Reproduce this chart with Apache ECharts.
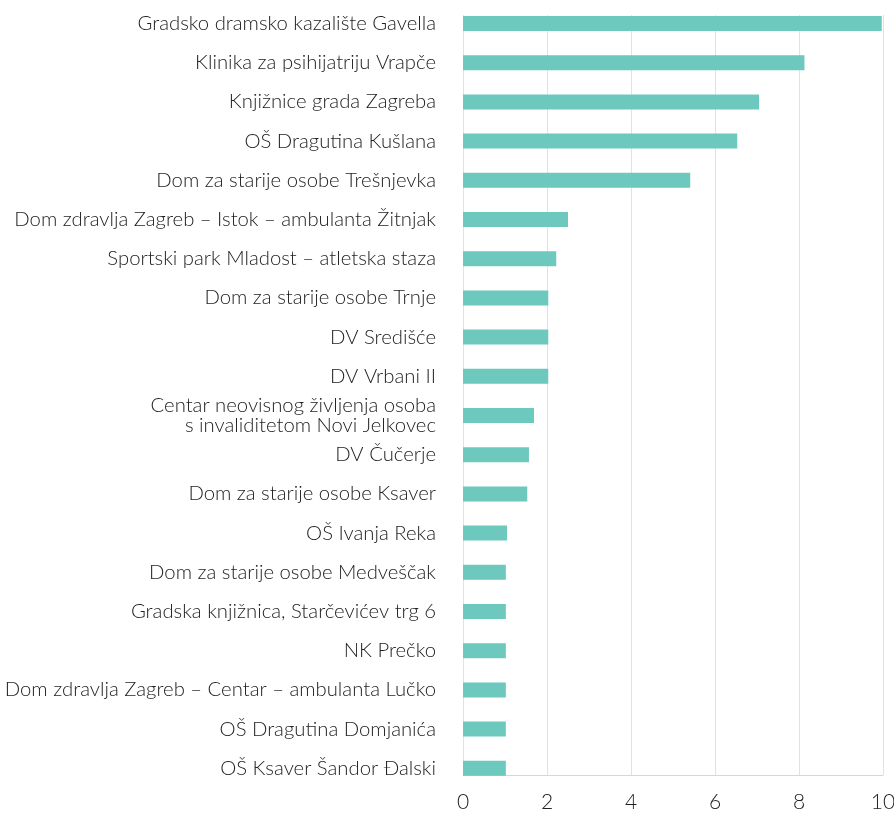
<!DOCTYPE html>
<html>
<head>
<meta charset="utf-8">
<script src="https://cdn.jsdelivr.net/npm/echarts@6/dist/echarts.min.js"></script>
<style>
html,body{margin:0;padding:0;background:#fff;}
#chart{width:894px;height:816px;}
</style>
</head>
<body>
<div id="chart"></div>
<script>
const categories = [
  "Gradsko dramsko kazalište Gavella",
  "Klinika za psihijatriju Vrapče",
  "Knjižnice grada Zagreba",
  "OŠ Dragutina Kušlana",
  "Dom za starije osobe Trešnjevka",
  "Dom zdravlja Zagreb – Istok – ambulanta Žitnjak",
  "Sportski park Mladost – atletska staza",
  "Dom za starije osobe Trnje",
  "DV Središće",
  "DV Vrbani II",
  "Centar neovisnog življenja osoba\ns invaliditetom Novi Jelkovec",
  "DV Čučerje",
  "Dom za starije osobe Ksaver",
  "OŠ Ivanja Reka",
  "Dom za starije osobe Medveščak",
  "Gradska knjižnica, Starčevićev trg 6",
  "NK Prečko",
  "Dom zdravlja Zagreb – Centar – ambulanta Lučko",
  "OŠ Dragutina Domjanića",
  "OŠ Ksaver Šandor Đalski"
];
const values = [9.97, 8.13, 7.05, 6.53, 5.41, 2.5, 2.22, 2.03, 2.03, 2.03, 1.69, 1.57, 1.53, 1.05, 1.02, 1.02, 1.02, 1.02, 1.02, 1.02];
const xTicks = [0, 2, 4, 6, 8, 10];

const FONT = 'Lato';
const chart = echarts.init(document.getElementById('chart'), null, {renderer: 'canvas'});
chart.setOption({
  animation: false,
  backgroundColor: '#ffffff',
  grid: [
    {left: 463, right: 11, top: 23.5, height: 744.8, containLabel: false, outerBoundsMode: 'none'},
    {left: 463, right: 11, top: 15, height: 760, containLabel: false, outerBoundsMode: 'none'}
  ],
  xAxis: [
    {gridIndex: 0, type: 'value', min: xTicks[0], max: xTicks[xTicks.length-1], show: false},
    {gridIndex: 1, type: 'value', min: xTicks[0], max: xTicks[xTicks.length-1], interval: 2,
     axisLine: {show: true, lineStyle: {color: '#d6d6d6', width: 1}},
     axisTick: {show: false},
     splitLine: {show: true, lineStyle: {color: '#e2e2e2', width: 1}},
     axisLabel: {color: '#222', fontSize: 21, fontFamily: FONT, fontWeight: 300, margin: 17}}
  ],
  yAxis: [
    {gridIndex: 0, type: 'category', data: categories, inverse: true, boundaryGap: false,
     axisLine: {show: false}, axisTick: {show: false}, splitLine: {show: false},
     axisLabel: {color: '#222', fontSize: 20.3, fontFamily: FONT, fontWeight: 300, margin: 27, lineHeight: 20, align: 'right', interval: 0}},
    {gridIndex: 1, type: 'value', min: 0, max: 1, show: false}
  ],
  series: [{
    type: 'bar',
    xAxisIndex: 0, yAxisIndex: 0,
    data: values,
    barWidth: 15,
    clip: false,
    itemStyle: {color: '#6dc8bd'},
    silent: true
  }]
});
</script>
</body>
</html>
